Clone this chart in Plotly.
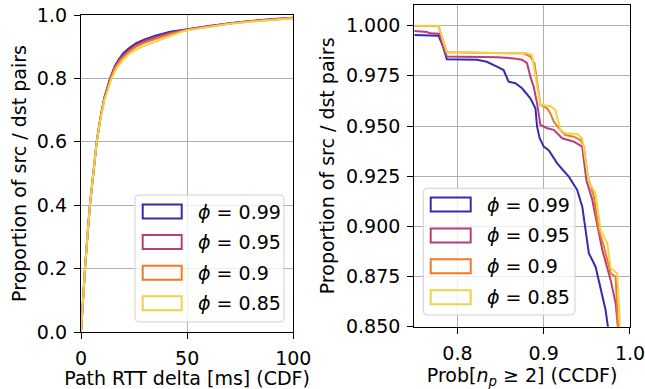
import plotly.graph_objects as go

W, H = 645, 389

series_names = ["0.99", "0.95", "0.9", "0.85"]
colors = ["#3c28ae", "#b63f7b", "#f27a22", "#efd24a"]

# Left panel: Path RTT delta CDF
rtt_x_099 = [0, 0.8, 1.9, 3, 4.2, 5.8, 7.4, 9, 11, 13.7, 16, 18, 20, 23, 26, 30, 35, 42, 50, 60, 70, 80, 90, 100]
rtt_y_099 = [0, 0.1, 0.2, 0.3, 0.4, 0.5, 0.6, 0.67, 0.74, 0.8, 0.84, 0.862, 0.88, 0.897, 0.911, 0.923, 0.935, 0.947, 0.955, 0.965, 0.974, 0.981, 0.987, 0.991]
rtt_x_095 = [0, 0.8, 1.9, 3, 4.2, 5.8, 7.4, 9, 11, 13.9, 16, 18, 20, 23, 26, 30, 35, 42, 50, 60, 70, 80, 90, 100]
rtt_y_095 = [0, 0.1, 0.2, 0.3, 0.4, 0.5, 0.6, 0.67, 0.738, 0.8, 0.836, 0.857, 0.874, 0.892, 0.906, 0.918, 0.93, 0.943, 0.954, 0.965, 0.974, 0.981, 0.987, 0.991]
rtt_x_09 = [0, 0.8, 1.9, 3, 4.2, 5.8, 7.4, 9, 11, 14.1, 16, 18, 20, 23, 26, 30, 35, 42, 50, 60, 70, 80, 90, 100]
rtt_y_09 = [0, 0.1, 0.2, 0.3, 0.4, 0.5, 0.6, 0.668, 0.735, 0.8, 0.832, 0.852, 0.868, 0.886, 0.9, 0.913, 0.925, 0.94, 0.953, 0.964, 0.973, 0.98, 0.986, 0.99]
rtt_x_085 = [0, 0.8, 1.9, 3, 4.2, 5.8, 7.4, 9, 11, 14.4, 17, 20, 23, 28, 33, 41, 47, 50, 60, 70, 80, 90, 100]
rtt_y_085 = [0, 0.1, 0.2, 0.3, 0.4, 0.5, 0.6, 0.665, 0.73, 0.8, 0.835, 0.86, 0.879, 0.898, 0.911, 0.932, 0.946, 0.952, 0.963, 0.972, 0.979, 0.985, 0.99]

# Right panel: Prob[n_p >= 2] CCDF
p_x_099 = [0.75, 0.778, 0.783, 0.7877, 0.8226, 0.834, 0.8458, 0.8535, 0.8593, 0.8671, 0.8749, 0.8845, 0.8904, 0.8923, 0.8953, 0.9, 0.9058, 0.9156, 0.929, 0.9388, 0.9447, 0.9485, 0.9523, 0.9601, 0.9659, 0.9717, 0.9744, 0.976]
p_y_099 = [0.9954, 0.995, 0.99, 0.9833, 0.983, 0.982, 0.9796, 0.9779, 0.9721, 0.9713, 0.9688, 0.9638, 0.9588, 0.9497, 0.9439, 0.9397, 0.938, 0.9314, 0.9248, 0.9181, 0.9098, 0.8982, 0.8866, 0.8799, 0.8683, 0.8583, 0.85, 0.845]
p_x_095 = [0.75, 0.765, 0.768, 0.779, 0.783, 0.7877, 0.846, 0.865, 0.8748, 0.8807, 0.8845, 0.8884, 0.8923, 0.8962, 0.904, 0.9116, 0.9214, 0.9349, 0.9446, 0.9495, 0.9563, 0.9621, 0.9679, 0.9776, 0.9834, 0.986, 0.987]
p_y_095 = [0.9974, 0.9968, 0.9962, 0.996, 0.99, 0.9846, 0.9843, 0.9837, 0.983, 0.9813, 0.9746, 0.9696, 0.9613, 0.9505, 0.9489, 0.9481, 0.9439, 0.9422, 0.9397, 0.923, 0.9131, 0.8998, 0.8882, 0.8732, 0.8616, 0.85, 0.845]
p_x_09 = [0.75, 0.778, 0.783, 0.7877, 0.8767, 0.8845, 0.8892, 0.893, 0.8962, 0.904, 0.9078, 0.9116, 0.9194, 0.9252, 0.9349, 0.9427, 0.9465, 0.9512, 0.9523, 0.9581, 0.9639, 0.9698, 0.9776, 0.9834, 0.986, 0.987]
p_y_09 = [0.9998, 0.9998, 0.993, 0.9867, 0.9862, 0.9846, 0.9813, 0.9696, 0.9605, 0.9588, 0.9563, 0.9522, 0.948, 0.9455, 0.9447, 0.943, 0.9397, 0.9248, 0.9231, 0.9148, 0.8982, 0.8899, 0.8766, 0.8749, 0.85, 0.845]
p_x_085 = [0.75, 0.778, 0.783, 0.7877, 0.8806, 0.8864, 0.8962, 0.9078, 0.9136, 0.9194, 0.9252, 0.9388, 0.9446, 0.9512, 0.9543, 0.96, 0.9659, 0.9737, 0.9776, 0.9853, 0.9884, 0.989]
p_y_085 = [1.0, 1.0, 0.993, 0.9867, 0.9862, 0.9854, 0.9605, 0.96, 0.958, 0.948, 0.9464, 0.946, 0.9439, 0.9248, 0.9206, 0.9165, 0.8982, 0.8915, 0.8791, 0.8766, 0.85, 0.845]

left_xticks = [0, 50, 100]
left_yticks = [0.0, 0.2, 0.4, 0.6, 0.8, 1.0]
right_xticks = [0.8, 0.9, 1.0]
right_yticks = [0.85, 0.875, 0.9, 0.925, 0.95, 0.975, 1.0]

rtt_series = [(rtt_x_099, rtt_y_099), (rtt_x_095, rtt_y_095), (rtt_x_09, rtt_y_09), (rtt_x_085, rtt_y_085)]
p_series = [(p_x_099, p_y_099), (p_x_095, p_y_095), (p_x_09, p_y_09), (p_x_085, p_y_085)]

FONT = "DejaVu Sans"
FS = 19

def pxx(x):
    return x / W

def pxy(y):
    return 1 - y / H

fig = go.Figure()
for (xs, ys), c, n in zip(rtt_series, colors, series_names):
    fig.add_trace(go.Scatter(x=xs, y=ys, mode="lines", line=dict(color=c, width=2),
                             xaxis="x", yaxis="y", showlegend=False, name=n))
for (xs, ys), c, n in zip(p_series, colors, series_names):
    fig.add_trace(go.Scatter(x=xs, y=ys, mode="lines", line=dict(color=c, width=2),
                             xaxis="x2", yaxis="y2", showlegend=False, name=n, cliponaxis=True))

axis_common = dict(showline=True, mirror=True, linecolor="black", linewidth=1.3,
                   ticks="outside", ticklen=6, tickwidth=1.3, tickcolor="black",
                   showgrid=True, gridcolor="#b0b0b0", gridwidth=1, zeroline=False,
                   automargin=False, ticklabeloverflow="allow",
                   tickfont=dict(family=FONT, size=FS, color="black"), ticklabelstandoff=3)

fig.update_layout(
    width=W, height=H, margin=dict(l=0, r=0, t=0, b=0, autoexpand=False),
    paper_bgcolor="white", plot_bgcolor="white",
    font=dict(family=FONT, size=FS, color="black"),
    xaxis=dict(domain=[pxx(81), pxx(293.3)], range=[0, 100.001], tickvals=left_xticks,
               ticktext=[str(v) for v in left_xticks], anchor="y",
               title=dict(text="Path RTT delta [ms] (CDF)", standoff=1, font=dict(family=FONT, size=FS)),
               **axis_common),
    yaxis=dict(domain=[pxy(332), pxy(15)], range=[0, 1.00001], tickvals=left_yticks,
               ticktext=[f"{v:.1f}" for v in left_yticks], anchor="x",
               title=dict(text="Proportion of src / dst pairs", standoff=5, font=dict(family=FONT, size=FS)),
               **axis_common),
    xaxis2=dict(domain=[pxx(414.3), pxx(630)], range=[0.75, 1.00001], tickvals=right_xticks,
                ticktext=[f"{v:.1f}" for v in right_xticks], anchor="y2",
                title=dict(text="Prob[<i>n</i><sub><i>p</i></sub> ≥ 2] (CCDF)", standoff=1, font=dict(family=FONT, size=FS)),
                **axis_common),
    yaxis2=dict(domain=[pxy(326.7), pxy(5)], range=[0.85, 1.0103], tickvals=right_yticks,
                ticktext=[f"{v:.3f}" for v in right_yticks], anchor="x2",
                title=dict(text="Proportion of src / dst pairs", standoff=6, font=dict(family=FONT, size=FS)),
                **axis_common),
)

shapes = []
annotations = []

def rounded_box(x0, y0, x1, y1, r):
    def P(x, y):
        return f"{pxx(x):.5f},{pxy(y):.5f}"
    path = (f"M {P(x0 + r, y0)} L {P(x1 - r, y0)} Q {P(x1, y0)} {P(x1, y0 + r)} "
            f"L {P(x1, y1 - r)} Q {P(x1, y1)} {P(x1 - r, y1)} "
            f"L {P(x0 + r, y1)} Q {P(x0, y1)} {P(x0, y1 - r)} "
            f"L {P(x0, y0 + r)} Q {P(x0, y0)} {P(x0 + r, y0)} Z")
    return dict(type="path", path=path, xref="paper", yref="paper",
                fillcolor="rgba(255,255,255,0.8)", line=dict(color="#d0d0d0", width=1), layer="above")

legend_specs = [
    # box (x0,y0,x1,y1), patch x0, patch x1, first patch top, spacing, text x
    ((135, 195, 284, 322), 142.7, 181.7, 204.5, 30.6, 196),
    ((423.3, 188.3, 575, 315), 430.7, 470.7, 197.5, 30.9, 485),
]
for box, px0, px1, ptop, sp, tx in legend_specs:
    shapes.append(rounded_box(*box, 4))
    for i, (c, n) in enumerate(zip(colors, series_names)):
        t = ptop + i * sp
        shapes.append(dict(type="rect", xref="paper", yref="paper",
                           x0=pxx(px0), x1=pxx(px1), y0=pxy(t + 14), y1=pxy(t),
                           line=dict(color=c, width=2), fillcolor="rgba(0,0,0,0)", layer="above"))
        annotations.append(dict(xref="paper", yref="paper", x=pxx(tx), y=pxy(t + 7),
                                xanchor="left", yanchor="middle", showarrow=False,
                                text=f"<i>ϕ</i> = {n}", font=dict(family=FONT, size=FS, color="black")))

fig.update_layout(shapes=shapes, annotations=annotations)
fig.write_html("out.html", config={"displayModeBar": False},
               post_script="document.body.style.margin='0';document.body.style.overflow='hidden';")
